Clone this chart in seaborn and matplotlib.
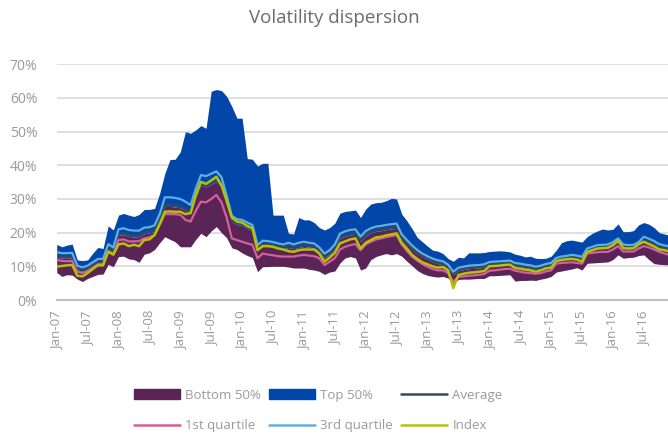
import numpy as np
import pandas as pd
import seaborn as sns
import matplotlib.pyplot as plt
from matplotlib.patches import Patch
from matplotlib.lines import Line2D

# Monthly values in %, Jan-07 .. Dec-16
top_max = [16.5, 15.8, 16.3, 16.6, 11.9, 11.7, 11.9, 13.9, 15.6, 15.3, 22.0, 20.8,
           25.2, 25.7, 25.2, 24.8, 25.4, 26.9, 26.9, 27.2, 31.7, 37.6, 41.7, 41.8,
           44.0, 50.0, 49.5, 50.5, 51.8, 51.0, 62.0, 62.5, 62.2, 60.5, 57.5, 54.0,
           54.0, 42.0, 41.8, 39.8, 40.6, 40.6, 25.2, 25.2, 25.2, 19.8, 19.6, 24.5,
           23.8, 23.8, 23.0, 21.5, 20.8, 21.5, 22.8, 25.8, 26.3, 26.5, 26.7, 24.5,
           27.0, 28.5, 28.9, 29.0, 29.5, 30.2, 30.0, 25.5, 23.5, 21.2, 18.6, 17.3,
           16.0, 14.8, 14.5, 13.8, 12.3, 11.5, 12.7, 12.5, 14.0, 14.0, 14.0, 14.1,
           14.4, 14.5, 14.6, 14.5, 14.3, 13.6, 13.3, 12.8, 13.0, 12.4, 12.3, 12.4,
           13.0, 14.8, 17.0, 17.6, 17.8, 17.5, 17.2, 18.8, 19.8, 20.5, 21.1, 20.8,
           21.0, 22.6, 20.3, 20.3, 20.6, 22.3, 23.0, 22.5, 21.5, 20.0, 19.6, 19.2]

q3 = [14.2, 13.9, 13.9, 14.0, 10.2, 9.7, 10.2, 11.2, 12.2, 12.2, 16.6, 15.6,
      21.0, 21.3, 20.8, 20.6, 20.6, 21.5, 21.6, 22.2, 25.5, 30.5, 30.5, 30.3,
      30.0, 29.2, 28.2, 33.0, 37.1, 36.8, 37.5, 38.2, 36.5, 31.0, 25.0, 24.0,
      23.8, 23.0, 22.3, 16.3, 17.6, 17.5, 17.2, 16.8, 16.5, 17.0, 16.5, 17.0,
      17.3, 17.0, 16.8, 15.6, 13.8, 14.8, 16.5, 19.7, 20.4, 20.8, 21.0, 18.8,
      20.5, 21.3, 21.8, 22.0, 22.3, 22.5, 22.7, 19.5, 17.8, 16.2, 14.9, 13.8,
      13.0, 12.3, 11.8, 11.5, 10.5, 8.4, 9.6, 9.9, 10.2, 10.3, 10.4, 10.6,
      11.3, 11.4, 11.5, 11.6, 11.7, 11.0, 10.8, 10.5, 10.3, 9.9, 10.2, 10.7,
      11.0, 12.5, 12.9, 13.1, 13.4, 13.2, 12.8, 15.3, 15.8, 16.3, 16.4, 16.5,
      17.2, 18.3, 16.5, 16.3, 16.4, 17.2, 18.8, 18.2, 17.5, 16.6, 16.2, 15.9]

average = [13.1, 12.8, 12.8, 12.9, 9.4, 8.9, 9.4, 10.4, 11.3, 11.3, 15.5, 14.6,
           19.6, 19.8, 19.3, 19.1, 19.2, 20.1, 20.3, 20.8, 24.0, 28.2, 28.2, 28.0,
           27.8, 27.0, 26.5, 31.0, 34.5, 34.0, 34.8, 35.5, 33.8, 29.0, 23.5, 22.8,
           22.5, 21.6, 21.0, 15.4, 16.7, 16.6, 16.3, 15.9, 15.6, 16.0, 15.6, 16.0,
           16.3, 16.1, 15.9, 14.8, 13.0, 14.0, 15.6, 18.7, 19.3, 19.7, 19.9, 17.8,
           19.5, 20.3, 20.8, 21.0, 21.3, 21.5, 21.7, 18.6, 17.0, 15.4, 14.1, 13.1,
           12.3, 11.6, 11.1, 10.8, 9.8, 7.8, 9.0, 9.3, 9.6, 9.7, 9.8, 10.0,
           10.7, 10.8, 10.9, 11.0, 11.1, 10.4, 10.2, 9.9, 9.7, 9.3, 9.6, 10.1,
           10.4, 11.9, 12.3, 12.5, 12.8, 12.6, 12.2, 14.5, 15.0, 15.5, 15.6, 15.7,
           16.4, 17.5, 15.7, 15.5, 15.6, 16.4, 17.8, 17.2, 16.6, 15.8, 15.4, 15.1]

median = [12.7, 12.4, 12.4, 12.5, 9.0, 8.5, 9.1, 10.1, 11.0, 11.0, 15.1, 14.2,
          19.2, 19.4, 18.9, 18.7, 18.8, 19.7, 19.9, 20.4, 23.6, 27.8, 27.8, 27.6,
          27.4, 26.6, 26.1, 30.6, 34.1, 33.6, 34.4, 35.1, 33.4, 28.6, 23.1, 22.4,
          22.1, 21.2, 20.6, 15.0, 16.3, 16.2, 15.9, 15.5, 15.2, 15.6, 15.2, 15.6,
          15.9, 15.7, 15.5, 14.4, 12.6, 13.6, 15.2, 18.3, 18.9, 19.3, 19.5, 17.4,
          19.1, 19.9, 20.4, 20.6, 20.9, 21.1, 21.3, 18.2, 16.6, 15.0, 13.8, 12.8,
          12.0, 11.3, 10.8, 10.5, 9.5, 7.5, 8.7, 9.0, 9.3, 9.4, 9.5, 9.7,
          10.4, 10.5, 10.6, 10.7, 10.8, 10.1, 9.9, 9.6, 9.4, 9.0, 9.3, 9.8,
          10.1, 11.6, 12.0, 12.2, 12.5, 12.3, 11.9, 14.2, 14.7, 15.2, 15.3, 15.4,
          16.1, 17.2, 15.4, 15.2, 15.3, 16.1, 17.5, 16.9, 16.3, 15.5, 15.1, 14.8]

q1 = [11.9, 11.6, 11.5, 11.6, 8.4, 8.0, 8.6, 9.6, 10.6, 10.6, 14.3, 13.5,
      17.8, 18.0, 17.4, 17.4, 17.5, 18.3, 18.6, 19.3, 22.5, 25.5, 25.5, 25.5,
      25.3, 23.8, 23.3, 26.5, 29.2, 29.0, 30.0, 31.2, 29.0, 24.5, 18.3, 17.8,
      17.3, 16.8, 16.4, 12.4, 13.8, 13.5, 13.3, 13.0, 12.9, 12.9, 12.9, 13.2,
      13.4, 13.2, 13.0, 12.4, 10.4, 11.4, 12.4, 15.0, 15.8, 16.3, 16.6, 14.8,
      16.5, 17.3, 18.0, 18.3, 18.7, 19.0, 19.3, 16.5, 14.6, 12.9, 11.7, 10.7,
      9.9, 9.2, 8.8, 8.8, 8.0, 5.4, 6.9, 7.0, 7.2, 7.3, 7.5, 7.7,
      8.7, 8.8, 9.0, 9.2, 9.3, 8.7, 8.4, 8.1, 8.0, 7.8, 8.0, 8.5,
      8.8, 10.8, 11.0, 11.1, 11.2, 11.0, 10.8, 13.8, 14.0, 14.2, 14.3, 14.3,
      15.0, 16.0, 14.4, 14.4, 14.4, 15.3, 16.0, 15.6, 15.0, 14.3, 13.8, 13.4]

bottom_min = [8.2, 7.0, 7.5, 7.4, 6.2, 5.5, 6.4, 7.0, 7.6, 7.7, 10.6, 9.9,
              12.9, 13.0, 12.2, 12.0, 11.2, 13.6, 14.0, 15.0, 17.0, 18.8, 18.0, 17.3,
              15.8, 15.8, 15.8, 18.0, 19.8, 18.8, 20.5, 21.8, 20.0, 18.5, 15.5, 15.0,
              14.0, 13.2, 12.6, 8.4, 9.9, 9.9, 10.0, 10.0, 10.0, 9.8, 9.5, 9.5,
              9.5, 9.1, 8.9, 8.5, 7.6, 8.3, 8.6, 11.0, 12.5, 12.9, 12.5, 8.9,
              9.5, 12.0, 12.9, 13.4, 13.8, 13.4, 13.8, 13.0, 11.5, 10.2, 8.8, 7.9,
              7.3, 7.0, 6.8, 7.0, 6.5, 4.9, 6.1, 6.2, 6.2, 6.3, 6.4, 6.4,
              7.2, 7.2, 7.3, 7.4, 7.5, 5.6, 5.8, 5.8, 5.9, 5.8, 6.2, 6.5,
              7.0, 8.3, 8.6, 8.9, 9.2, 9.6, 8.9, 10.9, 11.0, 11.1, 11.2, 11.3,
              12.0, 13.4, 12.4, 12.6, 12.7, 13.2, 13.4, 12.0, 10.8, 10.6, 10.5, 10.4]

index = [9.9, 10.1, 10.3, 10.4, 7.2, 7.0, 8.0, 9.2, 10.3, 10.3, 14.4, 13.5,
         16.5, 16.8, 16.0, 16.4, 16.0, 17.8, 18.0, 19.3, 22.5, 26.2, 26.3, 26.2,
         26.2, 25.5, 25.8, 31.0, 35.1, 34.5, 35.5, 36.6, 34.0, 29.5, 24.5, 23.3,
         23.0, 22.0, 21.3, 14.8, 16.0, 16.0, 15.8, 15.3, 15.0, 14.5, 14.3, 14.8,
         15.0, 15.0, 15.0, 13.8, 11.4, 12.6, 14.0, 16.8, 17.4, 18.0, 18.3, 15.3,
         17.0, 17.8, 18.6, 18.8, 19.2, 19.5, 19.8, 17.0, 15.3, 13.4, 12.2, 11.2,
         10.6, 10.0, 9.6, 9.8, 8.8, 3.5, 7.4, 7.8, 8.1, 8.2, 8.4, 8.6,
         10.0, 10.1, 10.2, 10.4, 10.5, 9.5, 9.3, 9.0, 8.8, 8.4, 8.8, 9.4,
         9.6, 11.6, 11.9, 12.1, 12.2, 12.0, 11.4, 14.3, 14.8, 15.3, 15.4, 15.5,
         16.3, 17.6, 15.4, 15.3, 15.4, 16.6, 17.3, 16.6, 15.9, 15.0, 14.8, 14.4]

months = pd.date_range("2007-01-01", periods=len(top_max), freq="MS")

df = pd.DataFrame({
    "m": np.arange(len(months)),
    "max": top_max, "q3": q3, "avg": average, "med": median,
    "q1": q1, "min": bottom_min, "idx": index,
})

col_bottom = "#5b2457"
col_top = "#0346aa"
col_avg = "#34495e"
col_q1 = "#d2609f"
col_q3 = "#5eafe3"
col_idx = "#b5c300"
grey = "#9a9a9a"

sns.set_style("white")
plt.rcParams["font.family"] = ["Open Sans", "DejaVu Sans"]

fig = plt.figure(figsize=(6.68, 4.37), dpi=100)
ax = fig.add_axes([56.7 / 668, 1 - 300 / 437, (668 - 56.7) / 668, 235.7 / 437])

# areas
ax.fill_between(df["m"], df["min"], df["med"], color=col_bottom, lw=0, zorder=2)
ax.fill_between(df["m"], df["med"], df["max"], color=col_top, lw=0, zorder=2)

# lines
sns.lineplot(data=df, x="m", y="avg", color=col_avg, lw=1.6, ax=ax, zorder=3)
sns.lineplot(data=df, x="m", y="q1", color=col_q1, lw=1.6, ax=ax, zorder=3)
sns.lineplot(data=df, x="m", y="q3", color=col_q3, lw=1.6, ax=ax, zorder=3)
sns.lineplot(data=df, x="m", y="idx", color=col_idx, lw=1.8, ax=ax, zorder=4)

ax.set_xlim(0, (668 - 56.7) / 5.15)
ax.set_ylim(0, 70)
ax.set_yticks(range(0, 71, 10))
ax.set_yticklabels([f"{v}%" for v in range(0, 71, 10)], fontsize=10, color=grey)
ax.yaxis.grid(True, color="#d9d9d9", lw=1.2, zorder=0)
ax.set_axisbelow(True)

tick_pos = list(range(0, len(months), 6))
ax.set_xticks(tick_pos)
ax.set_xticklabels([months[i].strftime("%b-%y") for i in tick_pos], rotation=90, fontsize=9.5, color=grey)
ax.tick_params(axis="x", direction="out", length=5, width=1, color="#bfbfbf", pad=3)
ax.tick_params(axis="y", length=0, pad=14)
ax.set_xlabel("")
ax.set_ylabel("")

for s in ["top", "right", "left"]:
    ax.spines[s].set_visible(False)
ax.spines["bottom"].set_color("#bfbfbf")
ax.spines["bottom"].set_linewidth(1.5)

# legend, 3 columns x 2 rows (filled column by column)
handles = [Patch(color=col_bottom), Line2D([], [], color=col_q1, lw=1.8),
           Patch(color=col_top), Line2D([], [], color=col_q3, lw=1.8),
           Line2D([], [], color=col_avg, lw=1.8), Line2D([], [], color=col_idx, lw=1.8)]
labels = ["Bottom 50%", "1st quartile", "Top 50%", "3rd quartile", "Average", "Index"]
leg = fig.legend(handles, labels, ncol=3, loc="upper left",
                 bbox_to_anchor=(123 / 668, 1 - 378 / 437), frameon=False,
                 fontsize=9.5, handlelength=3.5, handleheight=0.75, handletextpad=0.4,
                 columnspacing=0.6, labelspacing=1.35, borderpad=0.3)
for t in leg.get_texts():
    t.set_color(grey)

fig.text(0.5, 1 - 18 / 437, "Volatility dispersion", ha="center", va="center",
         fontsize=13.5, color="#6b6b6b")

fig.savefig("out.png", dpi=100)
